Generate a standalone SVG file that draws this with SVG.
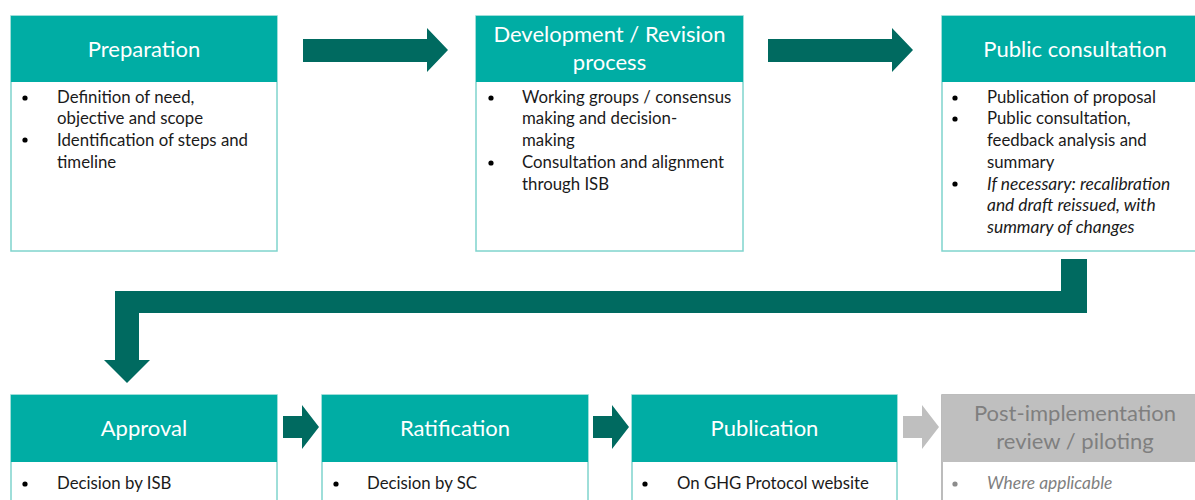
<svg xmlns="http://www.w3.org/2000/svg" width="1195" height="500" viewBox="0 0 1195 500">
<style>
.box{fill:#fff;stroke:#7fd4cd;stroke-width:1.5}
.gbox{fill:#fff;stroke:#a6a6a6;stroke-width:1.5}
.hdr{fill:#00ada4}
.ghdr{fill:#bfbfbf}
.ht{font-family:Lato,"Open Sans",sans-serif;font-size:22px;fill:#fff;text-anchor:middle}
.ght{font-family:Lato,"Open Sans",sans-serif;font-size:22px;fill:#7f7f7f;text-anchor:middle}
.bt{font-family:Lato,"Open Sans",sans-serif;font-size:16.8px;fill:#1a1a1a}
.gbt{font-family:Lato,"Open Sans",sans-serif;font-size:17.4px;fill:#7f7f7f;font-style:italic}
.it{font-style:italic;font-size:17.4px}
.dot{fill:#000}
.gdot{fill:#8c8c8c}
.arr{fill:#006a60}
.garr{fill:#bfbfbf}
</style>
<g id="connectors">
<polygon class="arr" points="303,39 427,39 427,28 448,50 427,72 427,62 303,62"/>
<polygon class="arr" points="768,39 892,39 892,28 913,50 892,72 892,62 768,62"/>
<polygon class="arr" points="1061,259 1087,259 1087,313 139,313 139,360 150,360 127,383 104,360 115,360 115,291 1061,291"/>
<polygon class="arr" points="283,416 302,416 302,405 319,427 302,449 302,438 283,438"/>
<polygon class="arr" points="593,416 612,416 612,405 629,427 612,449 612,438 593,438"/>
<polygon class="garr" points="903,416 922,416 922,405 939,427 922,449 922,438 903,438"/>
</g>
<g id="preparation">
<rect class="box" x="11" y="16" width="266" height="235"/>
<rect class="hdr" x="11" y="16" width="266" height="66"/>
<text class="ht" x="144" y="57">Preparation</text>
<circle class="dot" cx="25" cy="98" r="2.6"/>
<text class="bt" x="57" y="103">Definition of need,</text>
<text class="bt" x="57" y="124">objective and scope</text>
<circle class="dot" cx="25" cy="140" r="2.6"/>
<text class="bt" x="57" y="146">Identification of steps and</text>
<text class="bt" x="57" y="168">timeline</text>
</g>
<g id="development">
<rect class="box" x="476" y="16" width="267" height="235"/>
<rect class="hdr" x="476" y="16" width="267" height="66"/>
<text class="ht" x="609.5" y="42">Development / Revision</text>
<text class="ht" x="609.5" y="70">process</text>
<circle class="dot" cx="491" cy="98" r="2.6"/>
<text class="bt" x="522" y="103">Working groups / consensus</text>
<text class="bt" x="522" y="124">making and decision-</text>
<text class="bt" x="522" y="146">making</text>
<circle class="dot" cx="491" cy="163" r="2.6"/>
<text class="bt" x="522" y="168">Consultation and alignment</text>
<text class="bt" x="522" y="190">through ISB</text>
</g>
<g id="public-consultation">
<rect class="box" x="942" y="16" width="266" height="235"/>
<rect class="hdr" x="942" y="16" width="266" height="66"/>
<text class="ht" x="1075" y="57">Public consultation</text>
<circle class="dot" cx="955" cy="98" r="2.6"/>
<text class="bt" x="987" y="103">Publication of proposal</text>
<circle class="dot" cx="955" cy="119" r="2.6"/>
<text class="bt" x="987" y="124">Public consultation,</text>
<text class="bt" x="987" y="146">feedback analysis and</text>
<text class="bt" x="987" y="168">summary</text>
<circle class="dot" cx="955" cy="184" r="2.6"/>
<text class="bt it" x="987" y="190">If necessary: recalibration</text>
<text class="bt it" x="987" y="211">and draft reissued, with</text>
<text class="bt it" x="987" y="233">summary of changes</text>
</g>
<g id="approval">
<rect class="box" x="11" y="395" width="266" height="120"/>
<rect class="hdr" x="11" y="395" width="266" height="67"/>
<text class="ht" x="144" y="436">Approval</text>
<circle class="dot" cx="25" cy="484" r="2.6"/>
<text class="bt" x="57" y="489">Decision by ISB</text>
</g>
<g id="ratification">
<rect class="box" x="322" y="395" width="266" height="120"/>
<rect class="hdr" x="322" y="395" width="266" height="67"/>
<text class="ht" x="455" y="436">Ratification</text>
<circle class="dot" cx="336" cy="484" r="2.6"/>
<text class="bt" x="367" y="489">Decision by SC</text>
</g>
<g id="publication">
<rect class="box" x="632" y="395" width="265" height="120"/>
<rect class="hdr" x="632" y="395" width="265" height="67"/>
<text class="ht" x="764.5" y="436">Publication</text>
<circle class="dot" cx="645" cy="484" r="2.6"/>
<text class="bt" x="677" y="489">On GHG Protocol website</text>
</g>
<g id="post-implementation">
<rect class="gbox" x="942" y="395" width="266" height="120"/>
<rect class="ghdr" x="942" y="395" width="266" height="67"/>
<text class="ght" x="1075" y="421">Post-implementation</text>
<text class="ght" x="1075" y="449">review / piloting</text>
<circle class="gdot" cx="955" cy="484" r="2.6"/>
<text class="gbt" x="987" y="489">Where applicable</text>
</g>
</svg>
